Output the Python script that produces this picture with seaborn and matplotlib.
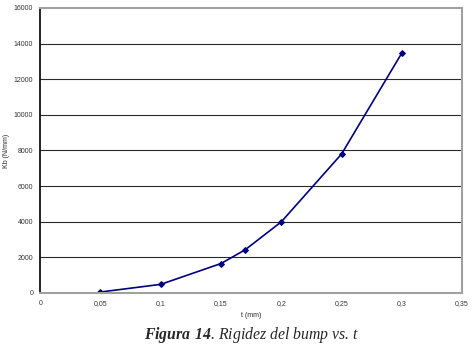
import pandas as pd
import matplotlib
matplotlib.use('Agg')
import matplotlib.pyplot as plt
import seaborn as sns

# Values
t_mm = [0.05, 0.1, 0.15, 0.17, 0.2, 0.25, 0.3]
kb = [50, 480, 1650, 2420, 3990, 7800, 13470]
x_ticks = [0, 0.05, 0.1, 0.15, 0.2, 0.25, 0.3, 0.35]
x_labels = ['0', '0,05', '0,1', '0,15', '0,2', '0,25', '0,3', '0,35']
y_ticks = [0, 2000, 4000, 6000, 8000, 10000, 12000, 14000, 16000]

df = pd.DataFrame({'t': t_mm, 'Kb': kb})

sns.set_style('white')
plt.rcParams['font.family'] = ['Liberation Sans', 'DejaVu Sans']
plt.rcParams['mathtext.fontset'] = 'custom'
plt.rcParams['mathtext.bf'] = 'Liberation Serif:italic:bold'
plt.rcParams['mathtext.rm'] = 'Liberation Serif:italic'

fig = plt.figure(figsize=(4.73, 3.45), dpi=100)
ax = fig.add_axes([0.085, 0.151, 0.892, 0.826])

ax.set_xlim(0, 0.35)
ax.set_ylim(0, 16000)
for y in y_ticks[1:-1]:
    ax.axhline(y, color='#2a2a2a', lw=0.8, zorder=0)

sns.lineplot(data=df, x='t', y='Kb', ax=ax, color='#000080', lw=1.2,
             marker='D', markersize=3, markeredgecolor='#000080')

ax.set_xticks(x_ticks)
ax.set_xticklabels(x_labels)
ax.set_yticks(y_ticks)
ax.tick_params(labelsize=5, colors='#333333', length=3, width=0.8, pad=2)

for s in ['top', 'right', 'bottom']:
    ax.spines[s].set_color('#a0a0a0')
    ax.spines[s].set_linewidth(1.5)
ax.spines['left'].set_color('black')
ax.spines['left'].set_linewidth(1.2)

ax.set_xlabel('t (mm)', fontsize=5, labelpad=4)
ax.set_ylabel('Kb (N/mm)', fontsize=5, labelpad=3)

fig.text(0.531, 0.03, r'$\bf{Figura\ 14}$. Rigidez del bump vs. t', ha='center',
         va='center', fontsize=11.3, style='italic', family='Liberation Serif')

plt.savefig('out.png', dpi=100)
